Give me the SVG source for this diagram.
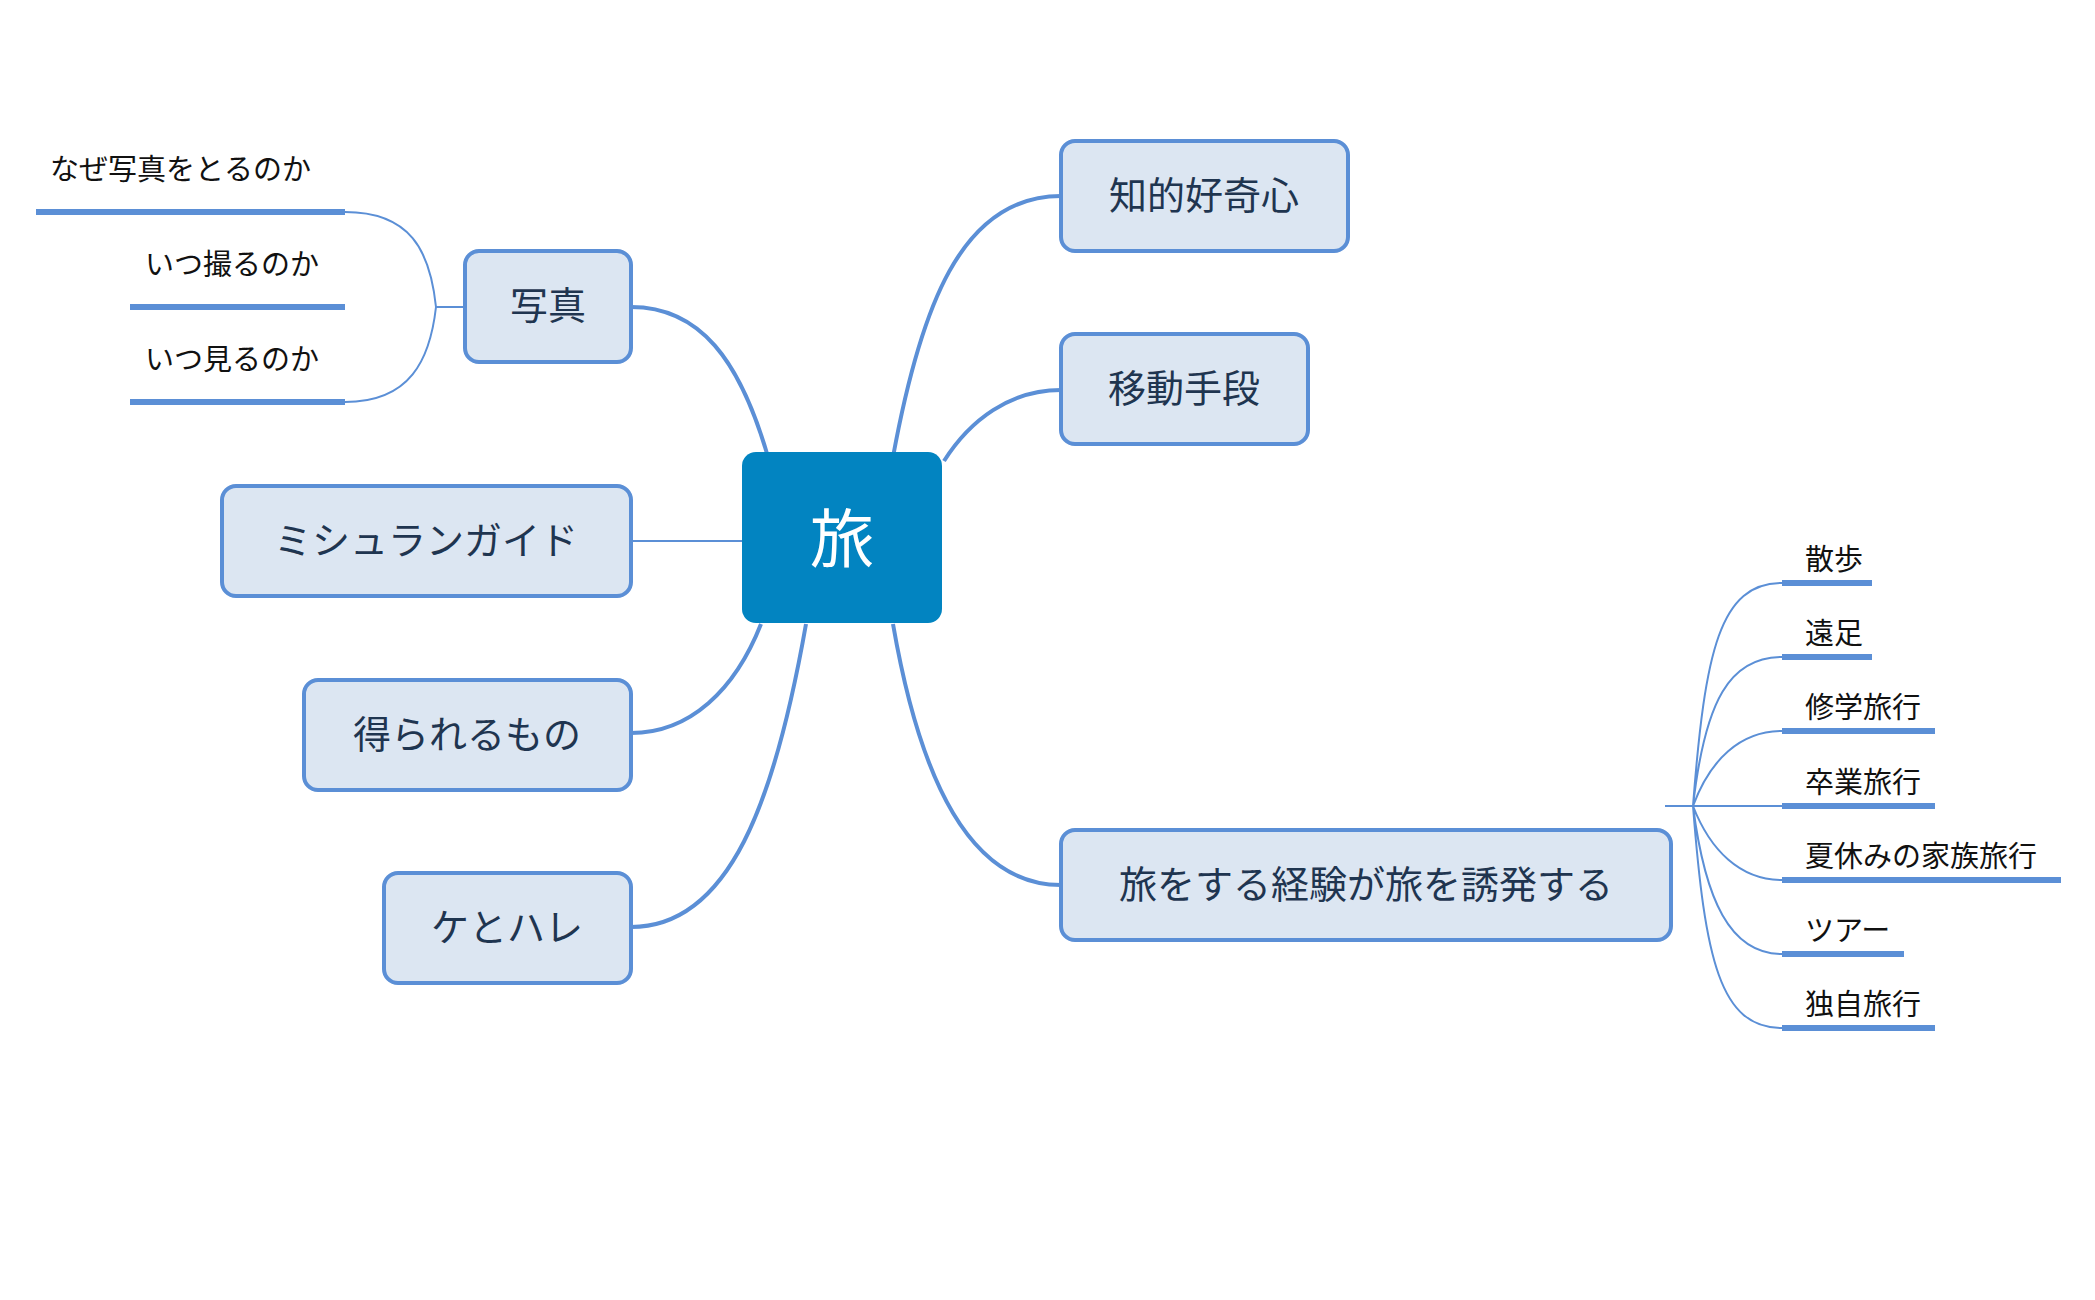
<svg xmlns="http://www.w3.org/2000/svg" width="2095" height="1300" viewBox="0 0 2095 1300">
<style>
.n rect{fill:#dce6f2;stroke:#5b8fd6;stroke-width:4}
.n text{font-family:"Noto Sans CJK JP",sans-serif;font-size:38px;fill:#1f3550;text-anchor:middle}
.s{font-family:"Noto Sans CJK JP",sans-serif;font-size:29px;fill:#111}
.c path{fill:none;stroke:#5b8fd6;stroke-width:4}
.c .t{stroke-width:2}
.c .u{stroke-width:6}
</style>
<g class="c">
<path d="M768,457 C740,360 700,307 631,307"/>
<path d="M893,457 C920,310 960,196 1061,196"/>
<path d="M944,461 C970,420 1010,390 1061,390"/>
<path d="M742,541 L631,541" class="t"/>
<path d="M761,624 C735,690 690,733 631,733"/>
<path d="M806,624 C775,800 730,927 631,927"/>
<path d="M893,624 C920,780 970,885 1061,885"/>
<path class="t" d="M465,307 L436,307 M345,212 C410,212 430,250 436,307 M345,402 C410,402 430,360 436,307"/>
<path class="u" d="M36,212 H345 M130,307 H345 M130,402 H345"/>
<path class="t" d="M1665,806 H1782 M1693,806 C1705,650 1720,583 1782,583 M1693,806 C1705,700 1730,657 1782,657 M1693,806 C1710,760 1740,731 1782,731 M1693,806 C1710,850 1740,880 1782,880 M1693,806 C1705,900 1730,954 1782,954 M1693,806 C1705,960 1720,1028 1782,1028"/>
<path class="u" d="M1782,583 H1872 M1782,657 H1872 M1782,731 H1935 M1782,806 H1935 M1782,880 H2061 M1782,954 H1904 M1782,1028 H1935"/>
</g>
<g id="center"><rect x="742" y="452" width="200" height="171" rx="14" fill="#0284c1"/><text x="842" y="562" font-family="Noto Sans CJK JP,sans-serif" font-size="64" fill="#fff" text-anchor="middle">旅</text></g>
<g id="n1" class="n"><rect x="1061" y="141" width="287" height="110" rx="14"/><text x="1204" y="209">知的好奇心</text></g>
<g id="n2" class="n"><rect x="1061" y="334" width="247" height="110" rx="14"/><text x="1184" y="402">移動手段</text></g>
<g id="n3" class="n"><rect x="1061" y="830" width="610" height="110" rx="14"/><text x="1366" y="898">旅をする経験が旅を誘発する</text></g>
<g id="n4" class="n"><rect x="465" y="251" width="166" height="111" rx="14"/><text x="548" y="319">写真</text></g>
<g id="n5" class="n"><rect x="222" y="486" width="409" height="110" rx="14"/><text x="426" y="554">ミシュランガイド</text></g>
<g id="n6" class="n"><rect x="304" y="680" width="327" height="110" rx="14"/><text x="467" y="748">得られるもの</text></g>
<g id="n7" class="n"><rect x="384" y="873" width="247" height="110" rx="14"/><text x="507" y="941">ケとハレ</text></g>
<g id="subs">
<text class="s" x="50" y="180">なぜ写真をとるのか</text>
<text class="s" x="145" y="275">いつ撮るのか</text>
<text class="s" x="145" y="370">いつ見るのか</text>
<text class="s" x="1805" y="570">散歩</text>
<text class="s" x="1805" y="644">遠足</text>
<text class="s" x="1805" y="718">修学旅行</text>
<text class="s" x="1805" y="793">卒業旅行</text>
<text class="s" x="1805" y="867">夏休みの家族旅行</text>
<text class="s" x="1805" y="941">ツアー</text>
<text class="s" x="1805" y="1015">独自旅行</text>
</g>
</svg>
